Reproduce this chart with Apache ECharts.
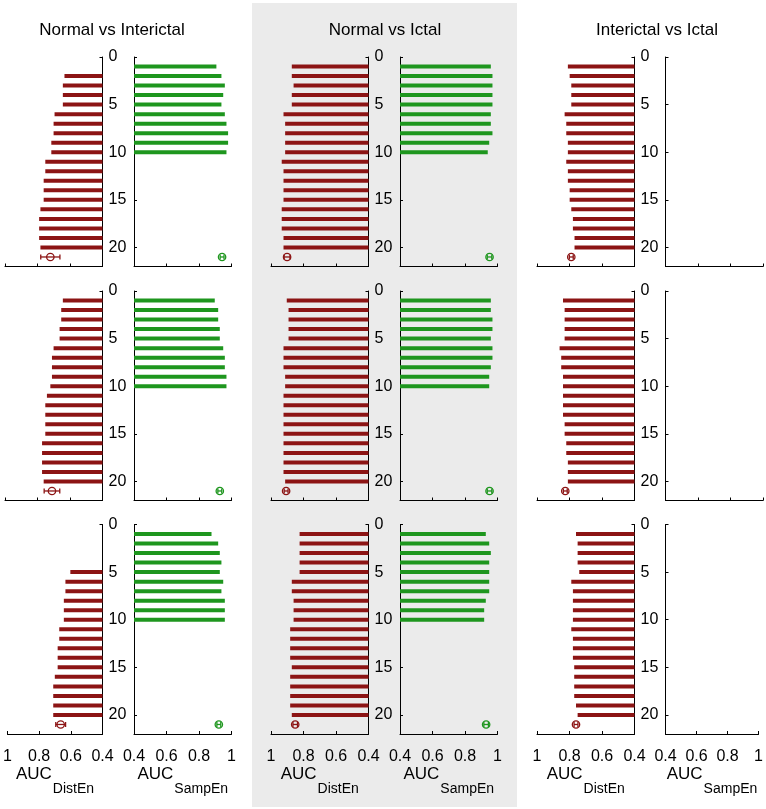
<!DOCTYPE html>
<html>
<head>
<meta charset="utf-8">
<script src="https://cdn.jsdelivr.net/npm/echarts@6/dist/echarts.min.js"></script>
<style>html,body{margin:0;padding:0;background:#fff}#c{width:766px;height:809px}</style>
</head>
<body>
<div id="c"></div>
<script>
// ---------- data ----------
const comparisons = ['Normal vs Interictal', 'Normal vs Ictal', 'Interictal vs Ictal'];
const ranks = [1,2,3,4,5,6,7,8,9,10,11,12,13,14,15,16,17,18,19,20];
const yTickLabels = [0, 5, 10, 15, 20];
const meanRank = 21;

// row 1
const distEn_r1_NvInter = [null,0.634,0.644,0.644,0.644,0.695,0.701,0.701,0.715,0.715,0.752,0.752,0.762,0.762,0.762,0.782,0.790,0.790,0.790,0.782];
const sampEn_r1_NvInter = [0.907,0.938,0.959,0.949,0.938,0.959,0.969,0.979,0.979,0.969];
const distEn_r1_NvIctal = [0.872,0.872,0.861,0.872,0.872,0.923,0.913,0.913,0.913,0.913,0.934,0.923,0.923,0.923,0.923,0.934,0.934,0.934,0.923,0.923];
const sampEn_r1_NvIctal = [0.959,0.969,0.969,0.969,0.969,0.959,0.959,0.969,0.949,0.940];
const distEn_r1_IvIctal = [0.810,0.799,0.789,0.789,0.789,0.830,0.820,0.820,0.810,0.810,0.820,0.810,0.810,0.799,0.799,0.789,0.779,0.779,0.769,0.769];
const sampEn_r1_IvIctal = [];
// row 2
const distEn_r2_NvInter = [0.644,0.654,0.654,0.664,0.664,0.701,0.711,0.711,0.711,0.721,0.742,0.752,0.752,0.752,0.752,0.772,0.772,0.772,0.772,0.762];
const sampEn_r2_NvInter = [0.897,0.918,0.918,0.928,0.928,0.949,0.959,0.959,0.969,0.969];
const distEn_r2_NvIctal = [0.903,0.892,0.892,0.892,0.892,0.923,0.923,0.923,0.913,0.913,0.923,0.923,0.923,0.923,0.923,0.923,0.923,0.923,0.923,0.913];
const sampEn_r2_NvIctal = [0.959,0.959,0.969,0.969,0.959,0.969,0.969,0.959,0.949,0.949];
const distEn_r2_IvIctal = [0.840,0.830,0.830,0.830,0.830,0.861,0.851,0.851,0.840,0.840,0.840,0.840,0.840,0.830,0.830,0.820,0.820,0.810,0.810,0.810];
const sampEn_r2_IvIctal = [];
// row 3
const distEn_r3_NvInter = [null,null,null,null,0.603,0.634,0.634,0.644,0.644,0.644,0.673,0.673,0.683,0.683,0.683,0.701,0.711,0.711,0.711,0.711];
const sampEn_r3_NvInter = [0.877,0.918,0.928,0.938,0.928,0.949,0.938,0.959,0.959,0.959];
const distEn_r3_NvIctal = [0.824,0.824,0.824,0.824,0.824,0.872,0.872,0.861,0.861,0.861,0.882,0.882,0.882,0.882,0.872,0.882,0.882,0.882,0.882,0.872];
const sampEn_r3_NvIctal = [0.928,0.949,0.959,0.949,0.949,0.949,0.949,0.928,0.918,0.918];
const distEn_r3_IvIctal = [0.760,0.750,0.750,0.750,0.740,0.789,0.779,0.779,0.779,0.779,0.789,0.779,0.779,0.779,0.771,0.771,0.771,0.771,0.760,0.750];
const sampEn_r3_IvIctal = [];

// mean ± error markers (rows x comparisons)
const meanDistEn_r1 = [0.721, 0.901, 0.789];
const errDistEn_r1  = [0.059, 0.018, 0.012];
const meanSampEn_r1 = [0.942, 0.951, null];
const errSampEn_r1  = [0.012, 0.014, 0];
const meanDistEn_r2 = [0.711, 0.907, 0.826];
const errDistEn_r2  = [0.048, 0.012, 0.012];
const meanSampEn_r2 = [0.928, 0.951, null];
const errSampEn_r2  = [0.012, 0.014, 0];
const meanDistEn_r3 = [0.664, 0.851, 0.760];
const errDistEn_r3  = [0.031, 0.014, 0.012];
const meanSampEn_r3 = [0.922, 0.930, null];
const errSampEn_r3  = [0.012, 0.014, 0];

// ---------- layout / style ----------
const RED = '#8c1414', GREEN = '#1e961e';
const FONT = 'Liberation Sans, Arial, sans-serif';
const leftStart = [5, 271, 537];
const rightStart = [134, 400, 665.5];
const subW = 97.5;
const rowTop = [57, 291, 524.5];
const rowH = 209.5;

const tableDist = [
  [distEn_r1_NvInter, distEn_r1_NvIctal, distEn_r1_IvIctal],
  [distEn_r2_NvInter, distEn_r2_NvIctal, distEn_r2_IvIctal],
  [distEn_r3_NvInter, distEn_r3_NvIctal, distEn_r3_IvIctal]
];
const tableSamp = [
  [sampEn_r1_NvInter, sampEn_r1_NvIctal, sampEn_r1_IvIctal],
  [sampEn_r2_NvInter, sampEn_r2_NvIctal, sampEn_r2_IvIctal],
  [sampEn_r3_NvInter, sampEn_r3_NvIctal, sampEn_r3_IvIctal]
];
const tableMeanD = [meanDistEn_r1, meanDistEn_r2, meanDistEn_r3];
const tableErrD = [errDistEn_r1, errDistEn_r2, errDistEn_r3];
const tableMeanS = [meanSampEn_r1, meanSampEn_r2, meanSampEn_r3];
const tableErrS = [errSampEn_r1, errSampEn_r2, errSampEn_r3];

const grids = [], xAxes = [], yAxes = [], series = [];

function barRender(color) {
  return function (params, api) {
    const v = api.value(0), r = api.value(1);
    const p0 = api.coord([0.4, r]);
    const p1 = api.coord([v, r]);
    return { type: 'line', shape: { x1: p0[0], y1: p0[1], x2: p1[0], y2: p1[1] },
      style: { stroke: color, lineWidth: 4, lineCap: 'butt' } };
  };
}
function markRender(color) {
  return function (params, api) {
    const m = api.value(0), r = api.value(1), e = api.value(2);
    const c = api.coord([m, r]);
    const a = api.coord([m - e, r]);
    const b = api.coord([m + e, r]);
    const st = { stroke: color, lineWidth: 1.3, fill: null };
    return { type: 'group', children: [
      { type: 'line', shape: { x1: a[0], y1: c[1], x2: b[0], y2: c[1] }, style: st },
      { type: 'line', shape: { x1: a[0], y1: c[1] - 2.5, x2: a[0], y2: c[1] + 2.5 }, style: st },
      { type: 'line', shape: { x1: b[0], y1: c[1] - 2.5, x2: b[0], y2: c[1] + 2.5 }, style: st },
      { type: 'circle', shape: { cx: c[0], cy: c[1], r: 3.7 }, style: { stroke: color, lineWidth: 1.3, fill: 'rgba(0,0,0,0)' } }
    ] };
  };
}

function addSub(row, col, isLeft) {
  const gi = grids.length;
  grids.push({ left: isLeft ? leftStart[col] : rightStart[col], top: rowTop[row], width: subW, height: rowH, containLabel: false });
  const bottomRow = row === 2;
  xAxes.push({
    type: 'value', gridIndex: gi, min: 0.4, max: 1, interval: 0.2, inverse: isLeft,
    axisLine: { show: true, onZero: false, lineStyle: { color: '#000', width: 1 } },
    axisTick: { show: true, inside: true, length: 3, lineStyle: { color: '#000' } },
    splitLine: { show: false },
    axisLabel: { show: bottomRow, color: '#000', fontSize: 16, fontFamily: FONT, margin: 15,
      formatter: v => String(parseFloat(v.toFixed(1))) },
    name: bottomRow ? (isLeft ? '{a|AUC}{b|DistEn}' : '{a|AUC}{b|SampEn}') : '',
    nameLocation: 'middle', nameGap: 32,
    nameTextStyle: { fontFamily: FONT, color: '#000', rich: {
      a: { fontSize: 17, fontFamily: FONT, color: '#000', verticalAlign: 'top', lineHeight: 18 },
      b: { fontSize: 14, fontFamily: FONT, color: '#000', verticalAlign: 'top', lineHeight: 14, padding: [16, 0, 0, 1] }
    } }
  });
  yAxes.push({
    type: 'value', gridIndex: gi, min: 0, max: 22, interval: 5, inverse: true,
    position: isLeft ? 'right' : 'left',
    axisLine: { show: true, onZero: false, lineStyle: { color: '#000', width: 1 } },
    axisTick: { show: true, inside: true, length: 3, lineStyle: { color: '#000' } },
    splitLine: { show: false },
    axisLabel: { show: isLeft, color: '#000', fontSize: 16, fontFamily: FONT, margin: 6, padding: [4, 0, 0, 0],
      formatter: v => (yTickLabels.indexOf(v) >= 0 ? String(v) : '') }
  });
  const vals = isLeft ? tableDist[row][col] : tableSamp[row][col];
  const color = isLeft ? RED : GREEN;
  const data = [];
  vals.forEach((v, i) => { if (v != null) data.push([v, ranks[i]]); });
  series.push({ type: 'custom', coordinateSystem: 'cartesian2d', xAxisIndex: gi, yAxisIndex: gi,
    encode: { x: 0, y: 1 }, data: data, renderItem: barRender(color), silent: true, z: 3 });
  const m = isLeft ? tableMeanD[row][col] : tableMeanS[row][col];
  const e = isLeft ? tableErrD[row][col] : tableErrS[row][col];
  if (m != null) {
    series.push({ type: 'custom', coordinateSystem: 'cartesian2d', xAxisIndex: gi, yAxisIndex: gi,
      encode: { x: 0, y: 1 }, data: [[m, meanRank, e]], renderItem: markRender(color), silent: true, z: 4 });
  }
}

for (let r = 0; r < 3; r++) for (let c = 0; c < 3; c++) { addSub(r, c, true); addSub(r, c, false); }

const titleX = [112, 385, 657];
const graphic = [
  { type: 'rect', z: -10, silent: true, shape: { x: 252, y: 3, width: 265, height: 804 }, style: { fill: '#ebebeb' } }
];
comparisons.forEach((t, i) => {
  graphic.push({ type: 'text', z: 10, silent: true, x: titleX[i], y: 30,
    style: { text: t, fill: '#000', font: '17px ' + FONT, textAlign: 'center', textVerticalAlign: 'middle', align: 'center', verticalAlign: 'middle' } });
});

const chart = echarts.init(document.getElementById('c'), null, { renderer: 'canvas' });
chart.setOption({
  animation: false,
  backgroundColor: '#fff',
  textStyle: { fontFamily: FONT },
  graphic: graphic,
  grid: grids,
  xAxis: xAxes,
  yAxis: yAxes,
  series: series
});
</script>
</body>
</html>
